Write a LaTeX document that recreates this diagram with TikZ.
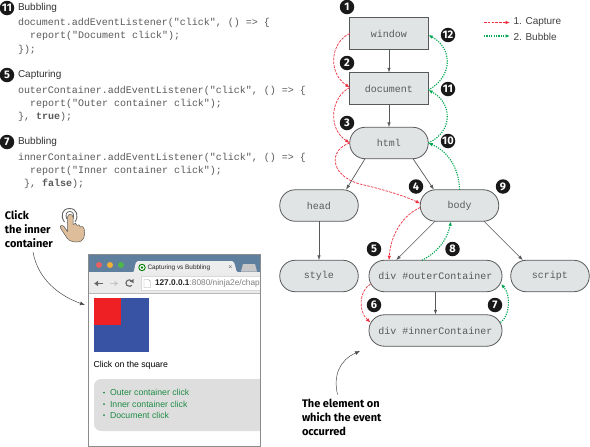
\documentclass[tikz,border=0pt]{standalone}
\usepackage{fontspec}
\setmainfont{Liberation Sans}
\setmonofont{Liberation Mono}
\newfontfamily\calloutfont{Fira Sans}
\usetikzlibrary{arrows.meta}
\definecolor{nodefill}{HTML}{E1E4E5}
\definecolor{nodeline}{HTML}{58595B}
\definecolor{codegray}{HTML}{5A5A5A}
\definecolor{capred}{HTML}{F0303F}
\definecolor{bubgreen}{HTML}{00A651}
\definecolor{chromeblue}{HTML}{5F7F9F}
\definecolor{pagegreen}{HTML}{1E8A44}
\definecolor{handskin}{HTML}{DDBD9A}
\definecolor{squareblue}{HTML}{3853A4}
\definecolor{squarered}{HTML}{EE2024}
\definecolor{lightred}{HTML}{E8605F}
\definecolor{lightamber}{HTML}{F2B134}
\definecolor{lightgreen}{HTML}{4FB748}
\tikzset{
  x=1pt,y=-1pt,
  every node/.style={inner sep=0pt,outer sep=0pt},
  sq/.style={draw=nodeline,line width=0.8pt,fill=nodefill,minimum height=31.5pt,font=\ttfamily\fontsize{10}{10}\selectfont,text=codegray},
  pill/.style={sq,rounded corners=15.5pt},
  w78/.style={minimum width=78.5pt},
  w133/.style={minimum width=133pt},
  tree/.style={draw=nodeline,line width=0.7pt,-{Latex[length=5pt,width=3.5pt]}},
  capflow/.style={draw=capred,line width=0.7pt,dash pattern=on 2.6pt off 1.2pt,-{Latex[length=4.5pt,width=3.5pt]}},
  bubflow/.style={draw=bubgreen,line width=1.1pt,dash pattern=on 1.2pt off 1.2pt,-{Latex[length=4.5pt,width=3.5pt]}},
  num/.style={circle,fill=black!90,text=white,minimum size=14.5pt,font=\calloutfont\fontsize{11}{11}\selectfont\bfseries},
  head label/.style={anchor=west,font=\fontsize{10}{10}\selectfont,text=black!80},
  code/.style={anchor=west,font=\ttfamily\fontsize{10}{10}\selectfont,text=codegray},
  callout/.style={anchor=north west,align=left,font=\calloutfont\fontsize{11}{14}\selectfont\bfseries,text=black},
  pointer/.style={draw=black!70,line width=0.5pt,-{Latex[length=5pt,width=4pt]}},
  legendtext/.style={anchor=west,font=\fontsize{10}{10}\selectfont,text=black!75},
  pagetext/.style={anchor=west,font=\fontsize{8.7}{8.7}\selectfont},
}
\begin{document}
\begin{tikzpicture}
\useasboundingbox (0,0) rectangle (590,447);
\fill[white] (0,0) rectangle (590,447);

% code column
\node[num] (n11a) at (7,8) {11};
\node[head label] (h1) at (18,7.5) {Bubbling};
\node[code] (c11) at (18,23) {document.addEventListener("click", () => \{};
\node[code] (c12) at (18,36) {\ \ report("Document click");};
\node[code] (c13) at (18,49.5) {\});};
\node[num] (n5a) at (7,75) {5};
\node[head label] (h2) at (18,75) {Capturing};
\node[code] (c21) at (18,90.5) {outerContainer.addEventListener("click", () => \{};
\node[code] (c22) at (18,103.5) {\ \ report("Outer container click");};
\node[code] (c23) at (18,116.5) {\}, \textbf{true});};
\node[num] (n7a) at (7,142) {7};
\node[head label] (h3) at (18,142) {Bubbling};
\node[code] (c31) at (18,157.5) {innerContainer.addEventListener("click", () => \{};
\node[code] (c32) at (18,170.5) {\ \ report("Inner container click");};
\node[code] (c33) at (24,184) {\}, \textbf{false});};

% tree nodes
\node[sq,w78] (window) at (389,33.5) {window};
\node[sq,w78] (document) at (389,88.5) {document};
\node[pill,w78] (html) at (389,143) {html};
\node[pill,w78] (head) at (319,205.5) {head};
\node[pill,w78] (body) at (459.5,205.5) {body};
\node[pill,w78] (style) at (319,276) {style};
\node[pill,w133] (outer) at (435.5,276) {div \#outerContainer};
\node[pill,w78] (script) at (550,276) {script};
\node[pill,w133] (inner) at (435.5,330.5) {div \#innerContainer};

% tree edges
\draw[tree] (window) -- (document);
\draw[tree] (document) -- (html);
\draw[tree] ([xshift=-24pt]html.south) -- ([xshift=27pt]head.north);
\draw[tree] ([xshift=24pt]html.south) -- ([xshift=-25.5pt]body.north);
\draw[tree] (head) -- (style);
\draw[tree] ([xshift=-24.5pt]body.south) -- ([xshift=-39.5pt]outer.north);
\draw[tree] ([xshift=24.5pt]body.south) -- ([xshift=-27pt]script.north);
\draw[tree] (outer) -- (inner);

% capture
\draw[capflow] (window.west) .. controls (331,42) and (327,72) .. ([yshift=1pt]document.west);
\draw[capflow] ([yshift=1pt]document.west) .. controls (331,97) and (327,128) .. (html.west);
\draw[capflow] (html.west) .. controls (328,150) and (330,176) .. (360,184) .. controls (385,190) and (405,196) .. ([yshift=2pt]body.west);
\draw[capflow] ([yshift=-2pt]body.west) .. controls (405,214) and (391,232) .. ([xshift=-46.5pt]outer.north);
\draw[capflow] ([xshift=1.5pt,yshift=-8pt]outer.west) .. controls (359,291) and (358,311) .. ([xshift=1.5pt,yshift=8pt]inner.west);

% bubble
\draw[bubflow] ([xshift=-1.5pt,yshift=8pt]inner.east) .. controls (510,316) and (511,295) .. ([xshift=-1pt,yshift=-8pt]outer.east);
\draw[bubflow] ([xshift=-13.5pt]outer.north) .. controls (438,252) and (447,240) .. ([xshift=-8.5pt]body.south);
\draw[bubflow] (body.north) .. controls (459,165) and (445,150) .. (html.east);
\draw[bubflow] (html.east) .. controls (453,132) and (453,103) .. ([yshift=-1.5pt]document.east);
\draw[bubflow] ([yshift=-1.5pt]document.east) .. controls (453,77) and (453,48) .. ([yshift=-1.5pt]window.east);

% numbers
\node[num] (n1) at (347,7) {1};
\node[num] (n2) at (347,63) {2};
\node[num] (n3) at (347,123) {3};
\node[num] (n4) at (416,186.5) {4};
\node[num] (n5) at (374,249) {5};
\node[num] (n6) at (374,305) {6};
\node[num] (n7) at (495,305) {7};
\node[num] (n8) at (452.5,249) {8};
\node[num] (n9) at (503,186.5) {9};
\node[num] (n10) at (448,141) {10};
\node[num] (n11) at (448,89) {11};
\node[num] (n12) at (448,35) {12};

% legend
\coordinate (l1s) at (484,22.5);
\coordinate (l1e) at (510,22.5);
\coordinate (l2s) at (484,36);
\coordinate (l2e) at (510,36);
\draw[capflow] (l1s) -- (l1e);
\draw[bubflow] (l2s) -- (l2e);
\node[legendtext] (lg1) at (513.5,22.5) {1. Capture};
\node[legendtext] (lg2) at (513.5,36.5) {2. Bubble};

% callouts
\node[callout] (ev) at (302,399.5) {The element on\\which the event\\occurred};
\coordinate (eve) at (360,351);
\draw[pointer] ([xshift=35.5pt,yshift=5pt]ev.north west) .. controls (333,375) and (340,360) .. (eve);
\node[callout] (clk) at (5,210.5) {Click\\the inner\\container};
\coordinate (cke) at (85,305);
\draw[pointer] (33,252) .. controls (38,280) and (60,296) .. (cke);

% hand
\draw[black!60,line width=0.9pt] (64.5,222) .. controls (60,216) and (62,208.5) .. (69.5,208.5) .. controls (77,208.5) and (79,216) .. (75,222);
\draw[black!60,line width=0.8pt] (66.8,219) .. controls (65,214.5) and (66.5,211.5) .. (69.8,211.5) .. controls (73,211.5) and (74.5,214.5) .. (73,219);
\draw[black!65,line width=0.5pt,fill=handskin,line join=round]
  (67.5,231.5) -- (67.5,217) .. controls (67.7,213.5) and (72.8,213.5) .. (73,217) -- (73.2,224.5)
  .. controls (74.5,222.5) and (77,223) .. (77,225.5) .. controls (78,224) and (80.3,224.5) .. (80.3,227)
  .. controls (81.5,225.5) and (84,226.5) .. (84.2,229) .. controls (85.5,236) and (84,242) .. (77,242)
  .. controls (70,242.5) and (67.5,239) .. (65,235) -- (60.5,228)
  .. controls (59.5,225.5) and (62,224.5) .. (64,226.5) -- cycle;

% browser
\fill[chromeblue] (89,255) rectangle (260,272);
\fill[black!8] (89,272) rectangle (260,293.5);
\draw[black!28,line width=0.6pt] (89,293.5) -- (260,293.5);
\fill[black!7] (133,272.5) .. controls (135,272.5) and (134,261) .. (138,261) -- (232,261) .. controls (236,261) and (235,272.5) .. (238,272.5) -- cycle;
\fill[black!22] (241,271.5) -- (243,264) -- (255,264) -- (257,271.5) -- cycle;
\fill[lightred] (99,265) circle (3);
\fill[lightamber] (110,265) circle (3);
\fill[lightgreen] (121,265) circle (3);
\draw[green!50!black,line width=0.9pt,fill=white] (142,267.5) circle (3.2);
\fill[green!50!black] (142,267.5) circle (1.4);
\node[anchor=west,font=\fontsize{6.4}{6.4}\selectfont,text=black!85] (tab) at (147.5,267.5) {Capturing vs Bubbling};
\node[font=\fontsize{7}{7}\selectfont,text=black!60] (tabx) at (230.5,267.5) {×};
\fill[white,draw=black!15,line width=0.4pt] (141,276) -- (260,276) -- (260,290.5) -- (141,290.5) -- cycle;
\draw[black!60,line width=1.3pt,-{Latex[length=4pt,width=6pt]}] (103,283.5) -- (94,283.5);
\draw[black!22,line width=1.3pt,-{Latex[length=4pt,width=6pt]}] (109.5,283.5) -- (118.5,283.5);
\draw[black!60,line width=1.1pt] (131.8,281) arc[start angle=-40,end angle=-320,radius=3.3];
\fill[black!60] (133.5,279) -- (133.5,283) -- (129.8,281.5) -- cycle;
\draw[black!35,line width=0.4pt,fill=white] (144,279.5) -- (148.5,279.5) -- (150.5,281.5) -- (150.5,287.5) -- (144,287.5) -- cycle;
\begin{scope}
\clip (150,275) rectangle (260,291);
\node[anchor=west,font=\fontsize{8.3}{8.3}\selectfont,text=black!50] (url) at (155,283.5) {\textbf{\textcolor{black!85}{127.0.0.1}}:8080/ninja2e/chap};
\end{scope}

\fill[squareblue] (93.5,297.5) rectangle (148.5,351.5);
\fill[squarered] (93.5,297.5) rectangle (121,325);
\node[pagetext,text=black] (cos) at (93.5,365.5) {Click on the square};
\begin{scope}
\clip (90,375) rectangle (260,435);
\fill[black!13,rounded corners=7pt] (94,379) rectangle (280,431);
\end{scope}
\fill[pagegreen] (104,392.5) circle (1);
\fill[pagegreen] (104,404) circle (1);
\fill[pagegreen] (104,415) circle (1);
\node[pagetext,text=pagegreen] (o1) at (110,392.5) {Outer container click};
\node[pagetext,text=pagegreen] (o2) at (110,404) {Inner container click};
\node[pagetext,text=pagegreen] (o3) at (110,415) {Document click};
\draw[black!45,line width=0.8pt] (88.5,254.5) rectangle (260,446);
\end{tikzpicture}
\end{document}
